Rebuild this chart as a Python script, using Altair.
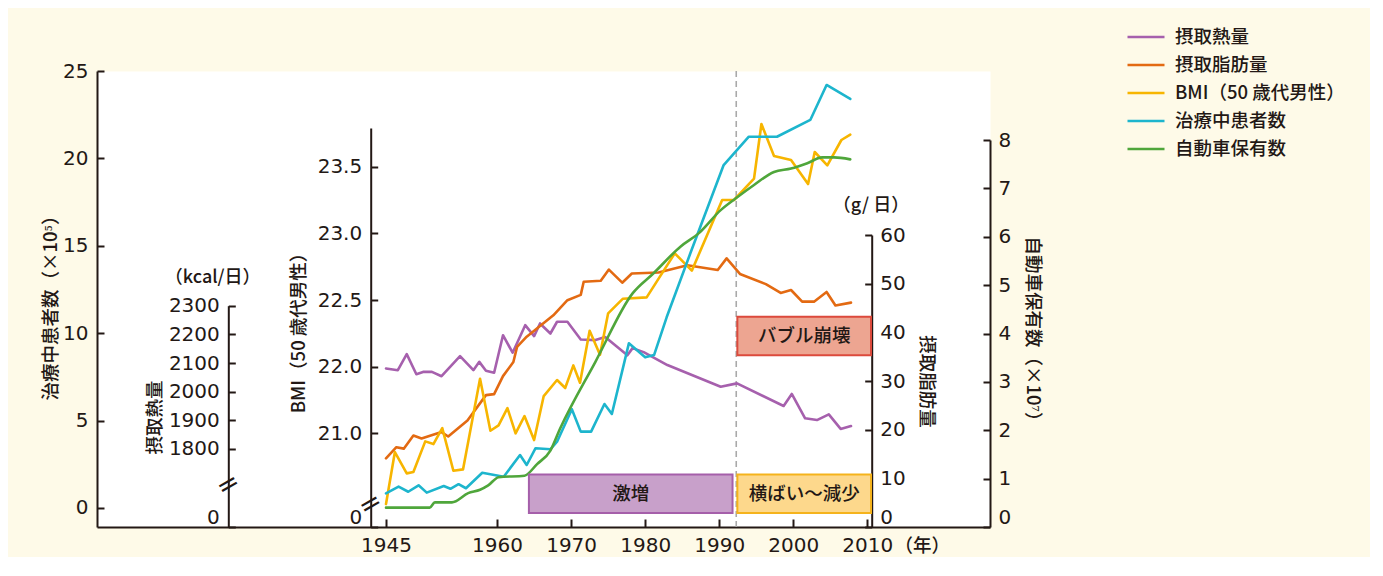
import altair as alt
import pandas as pd

# ---------------- data ----------------
series_names = ["摂取熱量", "摂取脂肪量", "BMI（50 歳代男性）", "治療中患者数", "自動車保有数"]
series_colors = ["#A660AD", "#E36A12", "#F7B500", "#1DB5CD", "#4FA63B"]

kcal_years = [1945, 1946.6, 1947.8, 1949.1, 1950.0, 1951.2, 1952.5, 1955.0, 1956.8, 1957.6,
              1958.5, 1959.6, 1960.8, 1962.1, 1963.8, 1965.0, 1965.8, 1967.2, 1968.1, 1969.5,
              1971.3, 1973.3, 1974.6, 1977.6, 1978.3, 1979.8, 1983.0, 1990.2, 1992.4, 1998.7,
              1999.8, 2001.6, 2003.2, 2004.8, 2006.4, 2007.8]
kcal_values = [2081, 2075, 2131, 2061, 2069, 2069, 2054, 2124, 2075, 2104,
               2073, 2066, 2197, 2136, 2232, 2194, 2238, 2203, 2244, 2244,
               2182, 2180, 2191, 2127, 2152, 2138, 2093, 2017, 2029, 1950,
               1992, 1907, 1901, 1921, 1870, 1880]

fat_years = [1945, 1946.4, 1947.4, 1948.7, 1949.8, 1952.5, 1953.4, 1956.0, 1958.5, 1959.6,
             1960.8, 1962.2, 1962.7, 1964.0, 1967.6, 1969.5, 1971.3, 1971.7, 1974.0, 1975.1,
             1976.9, 1978.2, 1981.8, 1985.7, 1989.8, 1991.0, 1992.8, 1996.3, 1998.3, 1999.7,
             2001.2, 2002.8, 2004.5, 2005.7, 2007.8]
fat_values = [14.1, 16.4, 16.1, 18.8, 18.2, 19.5, 18.6, 21.9, 27.1, 27.3,
              31.0, 33.9, 37.0, 39.1, 43.5, 46.6, 47.7, 50.4, 50.6, 52.9,
              50.2, 52.1, 52.3, 53.8, 52.8, 55.2, 52.0, 49.9, 48.1, 48.7,
              46.3, 46.3, 48.3, 45.5, 46.1]

bmi_years = [1945, 1946.2, 1947.8, 1948.7, 1950.3, 1951.4, 1952.6, 1954.1, 1955.4, 1957.7,
             1959.1, 1960.2, 1961.4, 1962.5, 1963.7, 1965.0, 1966.3, 1968.1, 1969.2, 1970.3,
             1971.2, 1972.5, 1973.9, 1975.0, 1977.0, 1980.2, 1984.0, 1986.3, 1990.4, 1992.0,
             1994.7, 1995.7, 1997.4, 1999.7, 2002.0, 2002.9, 2004.6, 2006.5, 2007.7]
bmi_values = [20.97, 21.36, 21.20, 21.21, 21.44, 21.42, 21.54, 21.22, 21.23, 21.91,
              21.52, 21.56, 21.69, 21.50, 21.63, 21.45, 21.78, 21.90, 21.84, 22.01,
              21.88, 22.27, 22.09, 22.40, 22.51, 22.52, 22.85, 22.72, 23.25, 23.25,
              23.41, 23.82, 23.58, 23.55, 23.37, 23.61, 23.51, 23.70, 23.74]

patient_years = [1945, 1946.7, 1948.0, 1949.4, 1950.5, 1952.8, 1953.7, 1954.8, 1955.8, 1958.0,
                 1960.9, 1963.1, 1964.0, 1965.2, 1967.2, 1968.1, 1970.1, 1971.3, 1972.7, 1974.5,
                 1975.5, 1977.8, 1980.0, 1981.2, 1982.9, 1986.1, 1990.6, 1994.0, 1997.8, 2002.3,
                 2004.5, 2007.7]
patient_values = [0.84, 1.22, 0.93, 1.30, 0.88, 1.26, 1.10, 1.36, 1.13, 2.02,
                  1.79, 3.03, 2.46, 3.42, 3.36, 3.79, 5.65, 4.37, 4.37, 5.95,
                  5.38, 9.42, 8.62, 8.75, 10.91, 14.57, 19.62, 21.24, 21.24, 22.20,
                  24.20, 23.40]

car_years = [1945, 1950.9, 1951.6, 1953.9, 1956.1, 1957.7, 1958.8, 1960.2, 1963.7, 1965.4,
             1967.2, 1968.5, 1973.3, 1978.3, 1981.1, 1984.8, 1987.3, 1990.2, 1992.2, 1994.7,
             1997.4, 1999.7, 2001.9, 2003.9, 2005.5, 2007.7]
car_values = [0.40, 0.40, 0.51, 0.51, 0.70, 0.77, 0.86, 1.03, 1.06, 1.30,
              1.58, 2.03, 3.42, 4.83, 5.24, 5.80, 6.08, 6.55, 6.79, 7.07,
              7.34, 7.41, 7.52, 7.64, 7.64, 7.60]

# axis ticks and labels as printed
x_tick_values = [1945, 1960, 1970, 1980, 1990, 2000, 2010]
patient_tick_values = [0, 5, 10, 15, 20, 25]
patient_tick_labels = ["0", "5", "10", "15", "20", "25"]
kcal_tick_values = [1527.8, 1800, 1900, 2000, 2100, 2200, 2300]
kcal_tick_labels = ["0", "1800", "1900", "2000", "2100", "2200", "2300"]
bmi_tick_values = [20.798, 21.5, 22.0, 22.5, 23.0, 23.5]
bmi_tick_labels = ["0", "21.0", "22.0", "22.5", "23.0", "23.5"]
fat_tick_values = [0, 10, 20, 30, 40, 50, 60]
fat_tick_labels = ["0", "10", "20", "30", "40", "50", "60"]
car_tick_values = [0, 1, 2, 3, 4, 5, 6, 7, 8]
car_tick_labels = ["0", "1", "2", "3", "4", "5", "6", "7", "8"]

# annotation boxes (years, 摂取脂肪量 units)
box_labels = ["激増", "横ばい～減少", "バブル崩壊"]
box_start = [1964.3, 1992.45, 1992.45]
box_end = [1991.8, 2010.5, 2010.5]
box_low = [2.9, 2.9, 35.3]
box_high = [10.8, 10.8, 43.2]
box_fill_colors = ["#C8A0CA", "#FDD88C", "#EDA591"]
box_stroke_colors = ["#A55FAA", "#F5B31C", "#DC4A3C"]

bubble_year = [1992.3]

unit_labels = ["（kcal/日）", "（g/ 日）"]
unit_years = [1921.6, 2010.5]
unit_levels = [13.18, 17.28]          # in 治療中患者数 units

break_years = [1923.7, 1942.9]
break_levels = [1.32, 0.2]            # in 治療中患者数 units

# ---------------- styling ----------------
INK = "#231815"
BG = "#FEFAE8"
JP = "Noto Sans CJK JP"
NUM = "DejaVu Sans"
W, H = 893, 456
TICK = 7
JPW = 500

frames = []
for name, ys, vs in [
    (series_names[0], kcal_years, kcal_values),
    (series_names[1], fat_years, fat_values),
    (series_names[2], bmi_years, bmi_values),
    (series_names[3], patient_years, patient_values),
    (series_names[4], car_years, car_values),
]:
    frames.append(pd.DataFrame({"series": name, "year": ys, "value": vs}))
df = pd.concat(frames, ignore_index=True)

boxes = pd.DataFrame({"label": box_labels, "x0": box_start, "x1": box_end,
                      "y0": box_low, "y1": box_high})
boxes["xm"] = (boxes["x0"] + boxes["x1"]) / 2
boxes["ym"] = (boxes["y0"] + boxes["y1"]) / 2
units = pd.DataFrame({"label": unit_labels, "year": unit_years, "level": unit_levels})
breaks = pd.DataFrame({"year": break_years, "level": break_levels})
bubble = pd.DataFrame({"year": bubble_year})


def label_expr(values, labels):
    expr = "datum.label"
    for v, l in reversed(list(zip(values, labels))):
        expr = f"datum.value == {v} ? '{l}' : ({expr})"
    return expr


common = dict(domainColor=INK, domainWidth=2, tickColor=INK, tickWidth=2, tickSize=TICK,
              labelFont=NUM, labelFontSize=20, labelColor=INK, labelOverlap=False,
              labelFlush=False, grid=False, titleFont=JP, titleFontSize=18.5,
              titleFontWeight=JPW, titleColor=INK, titleAlign="center",
              titleBaseline="middle")


def zero_baseline(v):
    return {"condition": {"test": f"datum.value == {v}", "value": "bottom"}, "value": "middle"}


def inner_left_axis(pos, values, labels, title, tx, ty, flush_zero=None):
    kw = dict(orient="right", offset=pos - W, values=values, labelExpr=label_expr(values, labels),
              labelAlign="right", labelPadding=-(TICK + 9), title=title, titleAngle=270,
              titleX=tx, titleY=ty, **common)
    if flush_zero is not None:
        kw["labelBaseline"] = zero_baseline(flush_zero)
    return alt.Axis(**kw)


def inner_right_axis(pos, values, labels, title, tx, ty, flush_zero=None):
    kw = dict(orient="left", offset=-pos, values=values, labelExpr=label_expr(values, labels),
              labelAlign="left", labelPadding=-(TICK + 8), title=title, titleAngle=90,
              titleX=tx, titleY=ty, **common)
    if flush_zero is not None:
        kw["labelBaseline"] = zero_baseline(flush_zero)
    return alt.Axis(**kw)


x_scale = alt.Scale(domain=[1905.97, 2026.57], nice=False, zero=False)
patient_scale = alt.Scale(domain=[-1.087, 25], nice=False, zero=False)
kcal_scale = alt.Scale(domain=[1527.8, 2300], range=[H, 234.7], nice=False, zero=False)
bmi_scale = alt.Scale(domain=[20.798, 23.79], range=[H, 57], nice=False, zero=False)
fat_scale = alt.Scale(domain=[0, 60], range=[H, 164], nice=False, zero=False)
car_scale = alt.Scale(domain=[0, 8], range=[H, 69], nice=False, zero=False)

x_axis = alt.Axis(orient="top", offset=-H, values=x_tick_values, format="d",
                  domainColor=INK, domainWidth=2, tickColor=INK, tickWidth=2, tickSize=8,
                  labelFont=NUM, labelFontSize=20, labelColor=INK, labelOverlap=False,
                  labelFlush=False, labelBaseline="middle", labelPadding=-26, grid=False,
                  title="（年）", titleFont=JP, titleFontSize=18.5, titleFontWeight=JPW,
                  titleColor=INK, titleX=797, titleY=18, titleAlign="left",
                  titleBaseline="middle", titleAngle=0)

axes = {
    series_names[3]: (patient_scale, inner_left_axis(0, patient_tick_values, patient_tick_labels,
                                                     "治療中患者数（×10⁵）", -47, 232)),
    series_names[0]: (kcal_scale, inner_left_axis(131.3, kcal_tick_values, kcal_tick_labels,
                                                  "摂取熱量", -74, 346, flush_zero=1527.8)),
    series_names[2]: (bmi_scale, inner_left_axis(273.7, bmi_tick_values, bmi_tick_labels,
                                                 "BMI（50 歳代男性）", -72.7, 257, flush_zero=20.798)),
    series_names[1]: (fat_scale, inner_right_axis(774.7, fat_tick_values, fat_tick_labels,
                                                  "摂取脂肪量", 55, 310, flush_zero=0)),
    series_names[4]: (car_scale, inner_right_axis(893, car_tick_values, car_tick_labels,
                                                  "自動車保有数（×10⁷）", 42, 262, flush_zero=0)),
}

legend = alt.Legend(title=None, orient="none", legendX=1029, legendY=-46, symbolType="stroke",
                    symbolSize=1369, symbolStrokeWidth=2.5, labelFont=JP, labelFontSize=18.5,
                    labelFontWeight=JPW, labelColor=INK, labelOffset=9, rowPadding=4,
                    clipHeight=24, padding=0, labelLimit=400)
color_enc = alt.Color("series:N", scale=alt.Scale(domain=series_names, range=series_colors),
                      legend=legend)

base = alt.Chart(df)

rule = alt.Chart(bubble).mark_rule(color="#A9A9A9", strokeWidth=1.6, strokeDash=[6, 4]).encode(
    x=alt.X("year:Q", scale=x_scale, axis=x_axis))

line_layers = []
for name in series_names:
    sc, ax = axes[name]
    interp = "monotone" if name == series_names[4] else "linear"
    line_layers.append(
        base.transform_filter(alt.datum.series == name)
        .mark_line(strokeWidth=2.6, interpolate=interp, strokeJoin="round", strokeCap="round")
        .encode(x=alt.X("year:Q", scale=x_scale, axis=x_axis),
                y=alt.Y("value:Q", scale=sc, axis=ax),
                color=color_enc))

rects = alt.Chart(boxes).mark_rect(strokeWidth=2).encode(
    x=alt.X("x0:Q", scale=x_scale, axis=x_axis), x2="x1",
    y=alt.Y("y0:Q", scale=fat_scale, axis=None), y2="y1",
    fill=alt.Fill("label:N", scale=alt.Scale(domain=box_labels, range=box_fill_colors), legend=None),
    stroke=alt.Stroke("label:N", scale=alt.Scale(domain=box_labels, range=box_stroke_colors), legend=None))

box_text = alt.Chart(boxes).mark_text(font=JP, fontSize=18.5, fontWeight=JPW, color=INK,
                                      baseline="middle", align="center").encode(
    x=alt.X("xm:Q", scale=x_scale, axis=x_axis),
    y=alt.Y("ym:Q", scale=fat_scale, axis=None),
    text="label:N")

unit_text = alt.Chart(units).mark_text(font=JP, fontSize=18, fontWeight=JPW, color=INK,
                                       baseline="middle", align="center").encode(
    x=alt.X("year:Q", scale=x_scale, axis=x_axis),
    y=alt.Y("level:Q", scale=patient_scale, axis=None),
    text="label:N")

break_text = alt.Chart(breaks).mark_text(text="=", font=NUM, fontSize=27, color=INK, angle=330,
                                         baseline="middle", align="center").encode(
    x=alt.X("year:Q", scale=x_scale, axis=x_axis),
    y=alt.Y("level:Q", scale=patient_scale, axis=None))

chart = alt.layer(rule, *line_layers, rects, box_text, unit_text, break_text).resolve_scale(
    y="independent").resolve_axis(y="independent").properties(
    width=W, height=H, background=BG,
    padding={"left": 89, "top": 63, "right": 380, "bottom": 30},
    autosize=alt.AutoSizeParams(type="none"),
).configure_view(strokeOpacity=0, fill="white")

chart.save("out.html", embed_options={"renderer": "svg", "actions": False})
